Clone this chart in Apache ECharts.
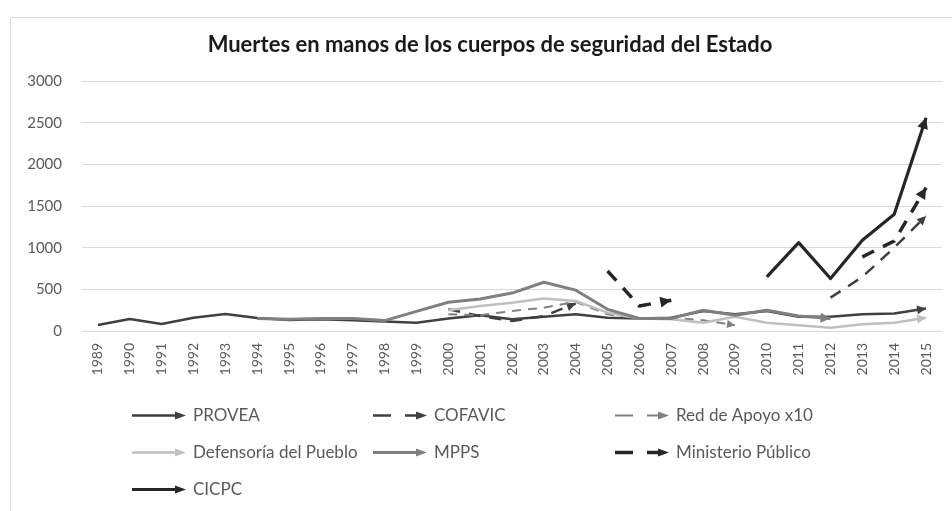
<!DOCTYPE html>
<html><head><meta charset="utf-8">
<script src="https://cdn.jsdelivr.net/npm/echarts@6/dist/echarts.min.js"></script>
<style>html,body{margin:0;padding:0;background:#fff}#c{width:952px;height:511px}</style>
</head><body><div id="c"></div>
<script>
const years = ['1989','1990','1991','1992','1993','1994','1995','1996','1997','1998','1999','2000','2001','2002','2003','2004','2005','2006','2007','2008','2009','2010','2011','2012','2013','2014','2015'];
const yTicks = [0, 500, 1000, 1500, 2000, 2500, 3000];
//                1989 90  91  92  93  94  95  96  97  98  99  2000 01  02  03  04  05  06  07  08  09  10  11  12  13  14  15
const provea    = [72, 144, 84, 160, 204, 156, 132, 140, 130, 115, 100, 150, 190, 140, 170, 200, 160, 150, 160, 240, 200, 240, 170, 170, 200, 210, 270];
const cofavic   = [null,null,null,null,null,null,null,null,null,null,null, 260, 180, 120, 180, 330, null,null,null,null,null,null,null, 400, 650, 1000, 1380];
const redApoyo  = [null,null,null,null,null,null,null,null,null,null,null, 200, 190, 240, 280, 350, 200, 150, 160, 130, 70, null,null,null,null,null,null];
const defensoria= [null,null,null,null,null,null,null,null,null,null,null, 250, 300, 340, 390, 360, 220, 150, 140, 100, 170, 100, 70, 40, 80, 100, 160];
const mpps      = [null,null,null,null,null, 150, 140, 150, 150, 125, 235, 345, 385, 455, 585, 490, 260, 150, 150, 250, 190, 250, 180, 150, null,null,null];
const ministerio= [null,null,null,null,null,null,null,null,null,null,null,null,null,null,null,null, 720, 300, 370, null,null,null,null,null, 890, 1080, 1720];
const cicpc     = [null,null,null,null,null,null,null,null,null,null,null,null,null,null,null,null,null,null,null,null,null, 650, 1060, 630, 1090, 1400, 2560];

const FONT = 'Lato';
const defs = [
  {name:'PROVEA', data:provea, color:'#404040', width:2.5, dash:null, arrow:[9,9]},
  {name:'COFAVIC', data:cofavic, color:'#404040', width:2.5, dash:[12,9], arrow:[9,9]},
  {name:'Red de Apoyo x10', data:redApoyo, color:'#808080', width:2, dash:[9,7], arrow:[8,8]},
  {name:'Defensoría del Pueblo', data:defensoria, color:'#bfbfbf', width:2.5, dash:null, arrow:[9,9]},
  {name:'MPPS', data:mpps, color:'#7f7f7f', width:3, dash:null, arrow:[10,10]},
  {name:'Ministerio Público', data:ministerio, color:'#262626', width:3.5, dash:[13,10], arrow:[11,11]},
  {name:'CICPC', data:cicpc, color:'#262626', width:3.2, dash:null, arrow:[11,11]}
];
const ARROW = 'path://M0,-10L0.01,-10L0,-10ZM0,0L5,10L-5,10Z';
function legendIcon(th, dashed){
  const a = 5 - th/2, b = 5 + th/2;
  let p = 'path://';
  if (dashed) p += `M0,${a}H18V${b}H0Z M32,${a}H45V${b}H32Z `;
  else p += `M0,${a}H45V${b}H0Z `;
  p += 'M43,1L54,5L43,9Z M56,0L56,10L56.01,10Z';
  return p;
}
function endIdx(arr){
  const r=[];
  for(let i=1;i<arr.length;i++){
    if(arr[i]!=null && arr[i-1]!=null && (i===arr.length-1 || arr[i+1]==null)) r.push(i);
  }
  return r;
}
const chart = echarts.init(document.getElementById('c'));
function buildSeries(rot){
  return defs.map((d,k)=>({
    name:d.name, type:'line', symbol:'none', showSymbol:true, showAllSymbol:true,
    connectNulls:false, silent:true, z: 2 + k,
    itemStyle:{color:d.color, borderWidth:0},
    lineStyle:{color:d.color, width:d.width, type: d.dash ? d.dash : 'solid', cap:'butt', join:'round'},
    data: d.data.map((v,i)=>{
      if (rot && rot[k] && rot[k][i] != null) {
        return {value:v, symbol:ARROW, symbolSize:[d.arrow[0], d.arrow[1]*2], symbolRotate:rot[k][i]};
      }
      return v;
    })
  }));
}
const legendCommon = {
  orient:'vertical', top:407, padding:0, itemWidth:56, itemHeight:10, itemGap:20,
  selectedMode:false, itemStyle:{borderWidth:0},
  textStyle:{color:'#595959', fontFamily:FONT, fontSize:17}
};
function li(name){
  const d = defs.find(x=>x.name===name);
  return {name, icon: legendIcon(Math.min(d.width,3.5), !!d.dash)};
}
const option = {
  animation:false,
  backgroundColor:'#ffffff',
  grid:{left:82, right:10, top:81, bottom:180},
  graphic:[
    {type:'rect', shape:{x:10.5, y:17.5, width:960, height:520}, style:{fill:'none', stroke:'#d9d9d9', lineWidth:1}, silent:true, z:0},
    {type:'text', x:490, y:45, style:{text:'Muertes en manos de los cuerpos de seguridad del Estado', align:'center', verticalAlign:'middle', fill:'#1a1a1a', font:'bold 22px Lato'}, z:10}
  ],
  legend:[
    Object.assign({left:132, data:[li('PROVEA'), li('Defensoría del Pueblo'), li('CICPC')]}, legendCommon),
    Object.assign({left:373, data:[li('COFAVIC'), li('MPPS')]}, legendCommon),
    Object.assign({left:615, data:[li('Red de Apoyo x10'), li('Ministerio Público')]}, legendCommon)
  ],
  xAxis:{
    type:'category', data:years, boundaryGap:true,
    axisLine:{show:true, lineStyle:{color:'#d9d9d9'}}, axisTick:{show:false},
    axisLabel:{interval:0, rotate:90, margin:12, color:'#595959', fontFamily:FONT, fontSize:14}
  },
  yAxis:{
    type:'value', min:yTicks[0], max:yTicks[yTicks.length-1], interval:yTicks[1]-yTicks[0],
    axisLine:{show:false}, axisTick:{show:false},
    splitLine:{lineStyle:{color:'#d9d9d9', width:1}},
    axisLabel:{margin:20, color:'#595959', fontFamily:FONT, fontSize:15, formatter:(v)=>String(v)}
  },
  series: buildSeries(null)
};
chart.setOption(option);
const rot = defs.map((d,k)=>{
  const o = {};
  endIdx(d.data).forEach(i=>{
    const p1 = chart.convertToPixel({xAxisIndex:0, yAxisIndex:0}, [i-1, d.data[i-1]]);
    const p2 = chart.convertToPixel({xAxisIndex:0, yAxisIndex:0}, [i, d.data[i]]);
    const dx = p2[0]-p1[0], dy = p2[1]-p1[1];
    o[i] = Math.atan2(-dx, -dy) * 180 / Math.PI;
  });
  return o;
});
chart.setOption({series: buildSeries(rot)});
</script></body></html>
